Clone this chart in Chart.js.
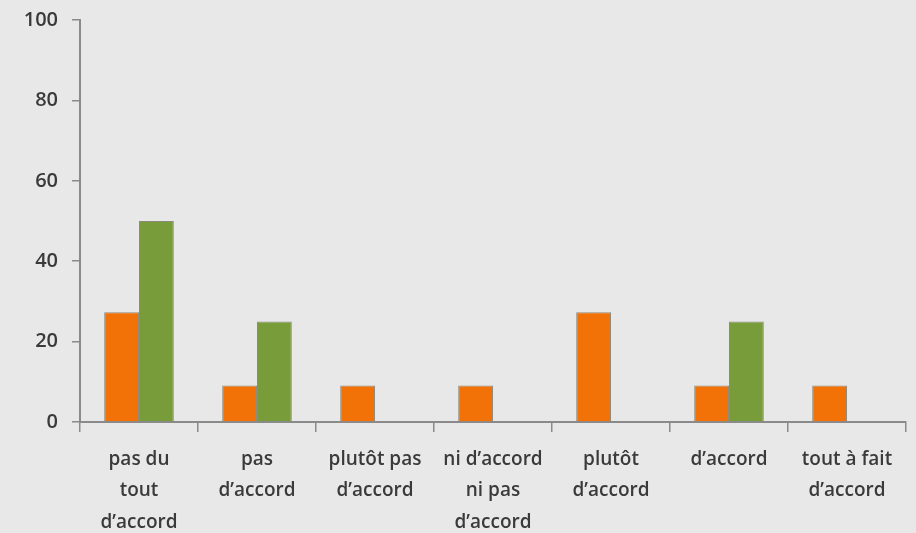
<!DOCTYPE html>
<html>
<head>
<meta charset="utf-8">
<script src="https://cdn.jsdelivr.net/npm/chart.js@4"></script>
<style>
  html, body { margin: 0; padding: 0; background: #e8e8e8; }
  #wrap { width: 916px; height: 533px; }
</style>
</head>
<body>
<div id="wrap"><canvas id="chart"></canvas></div>
<script>
// categories (multi-line labels as in the picture)
const categories = [
    ["pas du", "tout", "d’accord"],
    ["pas", "d’accord"],
    ["plutôt pas", "d’accord"],
    ["ni d’accord", "ni pas", "d’accord"],
    ["plutôt", "d’accord"],
    ["d’accord"],
    ["tout à fait", "d’accord"]
];

// two groups, percentages
const orangeValues = [27.3, 9.1, 9.1, 9.1, 27.3, 9.1, 9.1];
const greenValues = [50, 25, 0, 0, 0, 25, 0];

const yTicks = [0, 20, 40, 60, 80, 100];

const textColor = "#3a3a3a";
const axisColor = "#8a8a8a";
const labelFont = "'Open Sans', sans-serif";

let ctx = document.getElementById("chart").getContext("2d");

new Chart(ctx, {
    type: "bar",
    data: {
        labels: categories,
        datasets: [{
            label: "série 1",
            data: orangeValues,
            backgroundColor: "#f27207",
            borderColor: "rgba(110,100,80,0.7)",
            borderWidth: 1,
            borderSkipped: "bottom"
        }, {
            label: "série 2",
            data: greenValues,
            backgroundColor: "#789c3a",
            borderColor: "rgba(100,100,80,0.7)",
            borderWidth: 1,
            borderSkipped: "bottom"
        }]
    },
    options: {
        responsive: true,
        maintainAspectRatio: false,
        animation: false,
        layout: { padding: { top: 20, right: 10, left: 0, bottom: 0 } },
        datasets: {
            bar: { categoryPercentage: 0.59, barPercentage: 1.0 }
        },
        plugins: {
            legend: { display: false },
            tooltip: { enabled: false }
        },
        scales: {
            x: {
                grid: {
                    display: true,
                    drawOnChartArea: false,
                    drawTicks: true,
                    tickLength: 10,
                    color: axisColor,
                    lineWidth: 1.5,
                    offset: true
                },
                border: { display: true, color: axisColor, width: 2 },
                ticks: {
                    color: textColor,
                    font: { family: labelFont, size: 19, weight: "600", lineHeight: 1.65 },
                    padding: 12,
                    maxRotation: 0,
                    autoSkip: false
                },
                afterFit: function (scale) { scale.height = 111; }
            },
            y: {
                min: 0,
                max: 100,
                afterBuildTicks: function (scale) {
                    scale.ticks = yTicks.map(v => ({ value: v }));
                },
                grid: {
                    display: true,
                    drawOnChartArea: false,
                    drawTicks: true,
                    tickLength: 8,
                    color: axisColor,
                    lineWidth: 1.5
                },
                border: { display: true, color: axisColor, width: 2 },
                ticks: {
                    color: textColor,
                    font: { family: labelFont, size: 20, weight: "600" },
                    padding: 14
                },
                afterFit: function (scale) {
                    scale.width = 80;
                    scale.paddingTop = 0;
                    scale.paddingBottom = 0;
                }
            }
        }
    }
});
</script>
</body>
</html>
